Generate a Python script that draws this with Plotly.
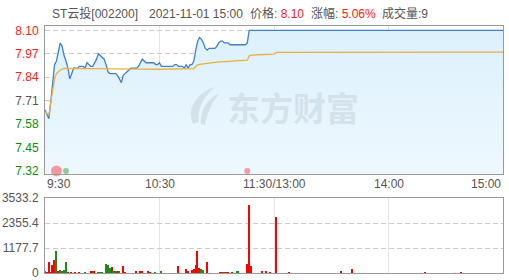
import plotly.graph_objects as go

# ---------------- data ----------------
stock_name = "ST云投[002200]"
quote_time = "2021-11-01 15:00"
last_price = 8.10
change_pct = "5.06%"
last_volume = 9
prev_close = 7.71

# minute index from 9:30 (0) to 15:00 (240), lunch break removed
price_minutes = list(range(0, 108)) + [240]
prices = [
    7.66, 7.63, 7.61, 7.70, 7.80, 7.91, 7.93, 7.99, 8.03, 8.01,
    7.96, 7.93, 7.89, 7.83, 7.86, 7.89, 7.89, 7.89, 7.90, 7.90,
    7.90, 7.89, 7.92, 7.91, 7.90, 7.90, 7.92, 7.94, 7.97, 7.96,
    7.95, 7.94, 7.91, 7.87, 7.86, 7.86, 7.86, 7.86, 7.85, 7.83,
    7.81, 7.85, 7.86, 7.87, 7.88, 7.89, 7.89, 7.89, 7.89, 7.90,
    7.92, 7.94, 7.93, 7.92, 7.92, 7.92, 7.92, 7.92, 7.91, 7.91,
    7.92, 7.90, 7.90, 7.90, 7.90, 7.90, 7.90, 7.90, 7.91, 7.91,
    7.90, 7.90, 7.90, 7.89, 7.91, 7.89, 7.91, 7.91, 7.93, 7.99,
    8.04, 8.06, 8.05, 8.03, 8.00, 7.99, 8.00, 8.00, 8.00, 8.00,
    8.01, 8.03, 8.04, 8.04, 8.03, 8.03, 8.03, 8.02, 8.02, 8.02,
    8.02, 8.02, 8.02, 8.02, 8.02, 8.02, 8.03, 8.10,
    8.10,
]

avg_minutes = [0, 1, 2, 3, 4, 5, 6, 7, 8, 10, 20, 30, 40, 50, 60, 70, 78,
               79, 80, 82, 85, 90, 100, 106, 107, 108, 115, 120, 121, 122, 240]
avg_prices = [7.65, 7.64, 7.63, 7.70, 7.77, 7.83, 7.86, 7.87, 7.88, 7.889,
              7.889, 7.888, 7.886, 7.885, 7.884, 7.885, 7.888, 7.900, 7.908,
              7.913, 7.917, 7.924, 7.930, 7.935, 7.957, 7.962, 7.966, 7.968,
              7.976, 7.978, 7.979]

vol_minutes = [0, 1, 2, 3, 4, 5, 6, 7, 8, 9, 10, 11, 12, 14, 16, 18, 21,
               24, 25, 26, 28, 29, 30, 32, 33, 34, 35, 36, 37, 38, 39, 41, 42,
               48, 50, 51, 54, 55, 58, 61, 70, 74, 75, 77, 78, 79, 80, 81, 82,
               83, 85, 92, 93, 94, 95, 96, 98, 101, 106, 107, 108, 114, 116,
               118, 121, 128, 155, 161, 199, 218]
vol_values = [60, 30, 500, 30, 391, 612, 1022, 50, 126, 100, 150, 532, 40,
              15, 15, 15, 40, 80, 80, 80, 30, 30, 30, 424, 400, 235, 297, 80,
              70, 70, 100, 344, 30, 80, 100, 100, 50, 20, 20, 100, 344, 188,
              80, 130, 200, 391, 1050, 235, 188, 160, 532, 40, 30, 30, 40, 30,
              30, 80, 438, 3217, 344, 80, 60, 30, 2638, 20, 60, 174, 25, 25]
vol_dirs = ["d", "u", "u", "u", "u", "u", "d", "u", "d", "d", "d", "d", "u",
            "u", "u", "u", "d", "u", "u", "u", "d", "d", "d", "d", "d", "d",
            "u", "d", "d", "u", "d", "u", "u", "u", "u", "u", "u", "u", "d",
            "d", "u", "u", "u", "u", "u", "u", "u", "u", "d", "d", "u", "u",
            "u", "d", "u", "u", "u", "d", "u", "u", "u", "u", "u", "u", "u",
            "u", "u", "u", "u", "u"]

event_minutes = [6, 11, 106]
event_dirs = ["u", "d", "u"]
event_sizes = [11, 6, 6]

x_tick_minutes = [0, 60, 120, 180, 240]
x_tick_labels = ["9:30", "10:30", "11:30/13:00", "14:00", "15:00"]
price_ticks = [7.32, 7.45, 7.58, 7.71, 7.84, 7.97, 8.10]
vol_ticks = [0, 1177.7, 2355.4, 3533.2]
vol_tick_labels = ["0", "1177.7", "2355.4", "3533.2"]

# ---------------- layout helpers ----------------
W, H = 509, 280
L, R, T, B = 45, 6, 26, 7
PW, PH = W - L - R, H - T - B
MAIN_TOP, MAIN_BOT, VOL_TOP, VOL_BOT = 26, 174, 198, 273


def px_x(x):
    return (x - L) / PW


def px_y(y):
    return (H - B - y) / PH


RED, GREEN, GRAY = "#ff1a1a", "#0e8a0e", "#555555"
UP_BAR, DOWN_BAR = "#ff0000", "#1c8c1c"
FONT = "Arial, 'Liberation Sans', 'Noto Sans CJK SC', sans-serif"
WM = "rgba(150,162,175,0.24)"


def lvl_color(p):
    if p > prev_close + 1e-9:
        return RED
    if p < prev_close - 1e-9:
        return GREEN
    return GRAY


fig = go.Figure()

# price line with fill
fig.add_trace(go.Scatter(
    x=price_minutes, y=prices, mode="lines",
    line=dict(color="#3f80c8", width=1.3),
    fill="tozeroy",
    fillgradient=dict(type="vertical", start=7.30, stop=8.10,
                      colorscale=[[0, "#eef8fe"], [1, "#dcf0fc"]]),
    xaxis="x", yaxis="y", hoverinfo="skip"))

# average line
fig.add_trace(go.Scatter(
    x=avg_minutes, y=avg_prices, mode="lines",
    line=dict(color="#e8b040", width=1.3),
    xaxis="x", yaxis="y", hoverinfo="skip"))

# event dots
fig.add_trace(go.Scatter(
    x=event_minutes, y=[price_ticks[0]] * len(event_minutes), mode="markers",
    marker=dict(size=event_sizes,
                color=["rgba(255,90,90,0.85)" if d == "u" else "rgba(60,160,60,0.75)"
                       for d in event_dirs], line=dict(width=0)),
    xaxis="x", yaxis="y", hoverinfo="skip", cliponaxis=False))

# volume bars
fig.add_trace(go.Bar(
    x=vol_minutes, y=vol_values, width=0.8,
    marker=dict(color=[UP_BAR if d == "u" else DOWN_BAR for d in vol_dirs],
                line=dict(width=0)),
    xaxis="x2", yaxis="y2", hoverinfo="skip"))

axis_common = dict(showline=True, linecolor="#9a9a9a", linewidth=1, mirror=True,
                   zeroline=False, fixedrange=True, automargin=False)

fig.update_layout(
    width=W, height=H,
    margin=dict(l=L, r=R, t=T, b=B, pad=0, autoexpand=False),
    paper_bgcolor="white", plot_bgcolor="white",
    showlegend=False, hovermode=False, bargap=0,
    font=dict(family=FONT, size=12, color=GRAY),
    xaxis=dict(domain=[0, 1], range=[0, 240], anchor="y",
               tickvals=x_tick_minutes[1:-1], showticklabels=False,
               showgrid=True, gridcolor="#e4e4e4", gridwidth=1, ticks="",
               **axis_common),
    yaxis=dict(domain=[px_y(MAIN_BOT), px_y(MAIN_TOP)], range=[7.303, 8.124],
               anchor="x", tickvals=price_ticks,
               ticktext=[f'<span style="color:{lvl_color(p)}">{p:.2f}</span>'
                         for p in price_ticks],
               showgrid=True, gridcolor="#cccccc", griddash="5px,3px",
               ticks="", ticklabelstandoff=3, ticklabeloverflow="allow",
               **axis_common),
    xaxis2=dict(domain=[0, 1], range=[0, 240], anchor="y2",
                tickvals=x_tick_minutes[1:-1], showticklabels=False,
                showgrid=True, gridcolor="#e4e4e4", ticks="", **axis_common),
    yaxis2=dict(domain=[px_y(VOL_BOT), px_y(VOL_TOP)], range=[0, vol_ticks[-1]],
                anchor="x2", tickvals=vol_ticks, ticktext=vol_tick_labels,
                showgrid=True, gridcolor="#cccccc", griddash="5px,3px",
                ticks="", ticklabelstandoff=3, ticklabeloverflow="allow",
                **axis_common),
)

# solid previous-close line
fig.add_shape(type="line", xref="x", yref="y", x0=0, x1=240,
              y0=prev_close, y1=prev_close,
              line=dict(color="#b8c0c8", width=1), layer="below")

annotations = []
# x labels
for m, lab in zip(x_tick_minutes, x_tick_labels):
    anchor = "left" if m == x_tick_minutes[0] else ("right" if m == x_tick_minutes[-1] else "center")
    annotations.append(dict(x=m, xref="x", y=px_y(184), yref="paper", text=lab,
                            showarrow=False, xanchor=anchor, yanchor="middle",
                            font=dict(size=12, color=GRAY)))
# right-side percent labels (mostly outside the window, as in the source)
for p in price_ticks:
    pct = (p / prev_close - 1) * 100
    annotations.append(dict(x=px_x(506.5), xref="paper", y=p, yref="y",
                            text=f"{pct:.2f}%", showarrow=False, xanchor="left",
                            yanchor="middle", font=dict(size=12, color=lvl_color(p))))
# header
ty = px_y(14)
header = [
    (50, stock_name),
    (146.5, quote_time),
    (248, f'价格: <span style="color:{RED}">{last_price:.2f}</span>'),
    (309, f'涨幅: <span style="color:{RED}">{change_pct}</span>'),
    (380, f"成交量:{last_volume}"),
]
for x, txt in header:
    annotations.append(dict(x=px_x(x), xref="paper", y=ty, yref="paper", text=txt,
                            showarrow=False, xanchor="left", yanchor="middle",
                            font=dict(size=12, color=GRAY)))
# watermark
annotations.append(dict(x=px_x(293), xref="paper", y=px_y(107), yref="paper",
                        text="<b>东方财富</b>", showarrow=False, xanchor="center",
                        yanchor="middle",
                        font=dict(size=33, color=WM,
                                  family="'Noto Sans CJK SC', sans-serif")))
fig.update_layout(annotations=annotations)


def wm_path(points):
    parts = []
    for cmd, pts in points:
        coords = " ".join(f"{px_x(a):.4f},{px_y(b):.4f}" for a, b in pts)
        parts.append(f"{cmd} {coords}")
    return " ".join(parts) + " Z"


logo1 = wm_path([("M", [(193, 124)]), ("C", [(186, 108), (198, 92), (215, 87)]),
                 ("C", [(204, 96), (197, 108), (199, 122)])])
logo2 = wm_path([("M", [(201, 124)]), ("C", [(200, 110), (208, 98), (219, 94)]),
                 ("C", [(212, 103), (207, 113), (205, 125)])])
for pth in (logo1, logo2):
    fig.add_shape(type="path", xref="paper", yref="paper", path=pth,
                  fillcolor=WM, line=dict(width=0))

fig.write_html("out.html")
